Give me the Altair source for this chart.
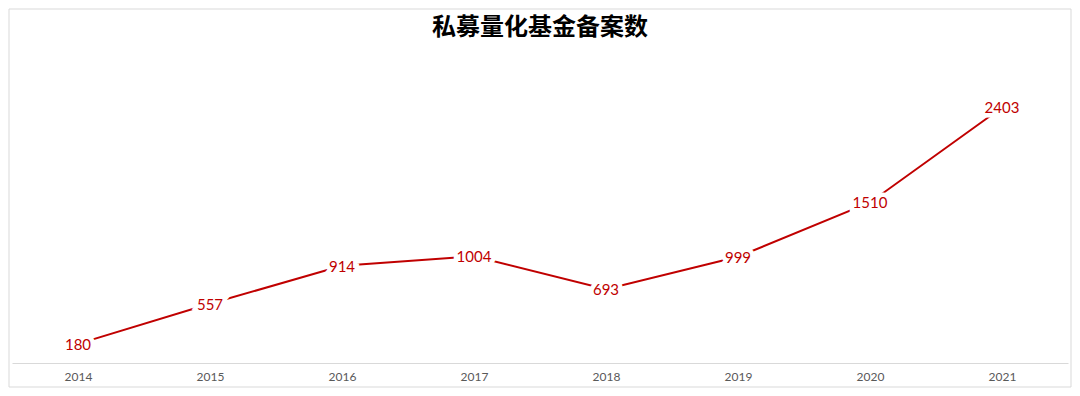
import altair as alt
import pandas as pd

years = ["2014", "2015", "2016", "2017", "2018", "2019", "2020", "2021"]
counts = [180, 557, 914, 1004, 693, 999, 1510, 2403]
title_text = "私募量化基金备案数"

df = pd.DataFrame({"year": years, "count": counts})

RED = "#C00000"

x = alt.X("year:N", sort=years, title=None,
          axis=alt.Axis(labelAngle=0, ticks=False, domainColor="#d9d9d9",
                        labelColor="#595959", labelFont="Lato", labelFontSize=12,
                        labelPadding=8, grid=False))
y = alt.Y("count:Q", scale=alt.Scale(domain=[0, 3000], nice=False), axis=None)

base = alt.Chart(df)
one = pd.DataFrame({"t": [title_text]})

border = alt.Chart(one).mark_rect(
    fill=None, stroke="#d9d9d9", strokeWidth=1, clip=False
).encode(
    x=alt.value(-3), x2=alt.value(1059), y=alt.value(-35), y2=alt.value(343)
)

title = alt.Chart(one).mark_text(
    font="Noto Sans CJK SC", fontSize=24, fontWeight="bold", color="#000000",
    align="center", baseline="middle"
).encode(x=alt.value(528), y=alt.value(-16), text="t:N")

line = base.mark_line(color=RED, strokeWidth=2).encode(x=x, y=y)

halo = base.mark_text(font="Lato", fontSize=15, color="white", stroke="white",
                      strokeWidth=9, baseline="middle", dy=1).encode(
    x=x, y=y, text="count:Q")
labels = base.mark_text(font="Lato", fontSize=15, color=RED,
                        baseline="middle", dy=1).encode(
    x=x, y=y, text="count:Q")

chart = alt.layer(border, title, line, halo, labels).properties(
    width=1056, height=319,
    padding={"left": 4, "top": 36, "right": 4, "bottom": 25},
    autosize=alt.AutoSizeParams(type="none"),
).configure(background="white", view=alt.ViewConfig(stroke="transparent", strokeWidth=0))

chart.save("out.html", embed_options={"renderer": "svg", "actions": False})
